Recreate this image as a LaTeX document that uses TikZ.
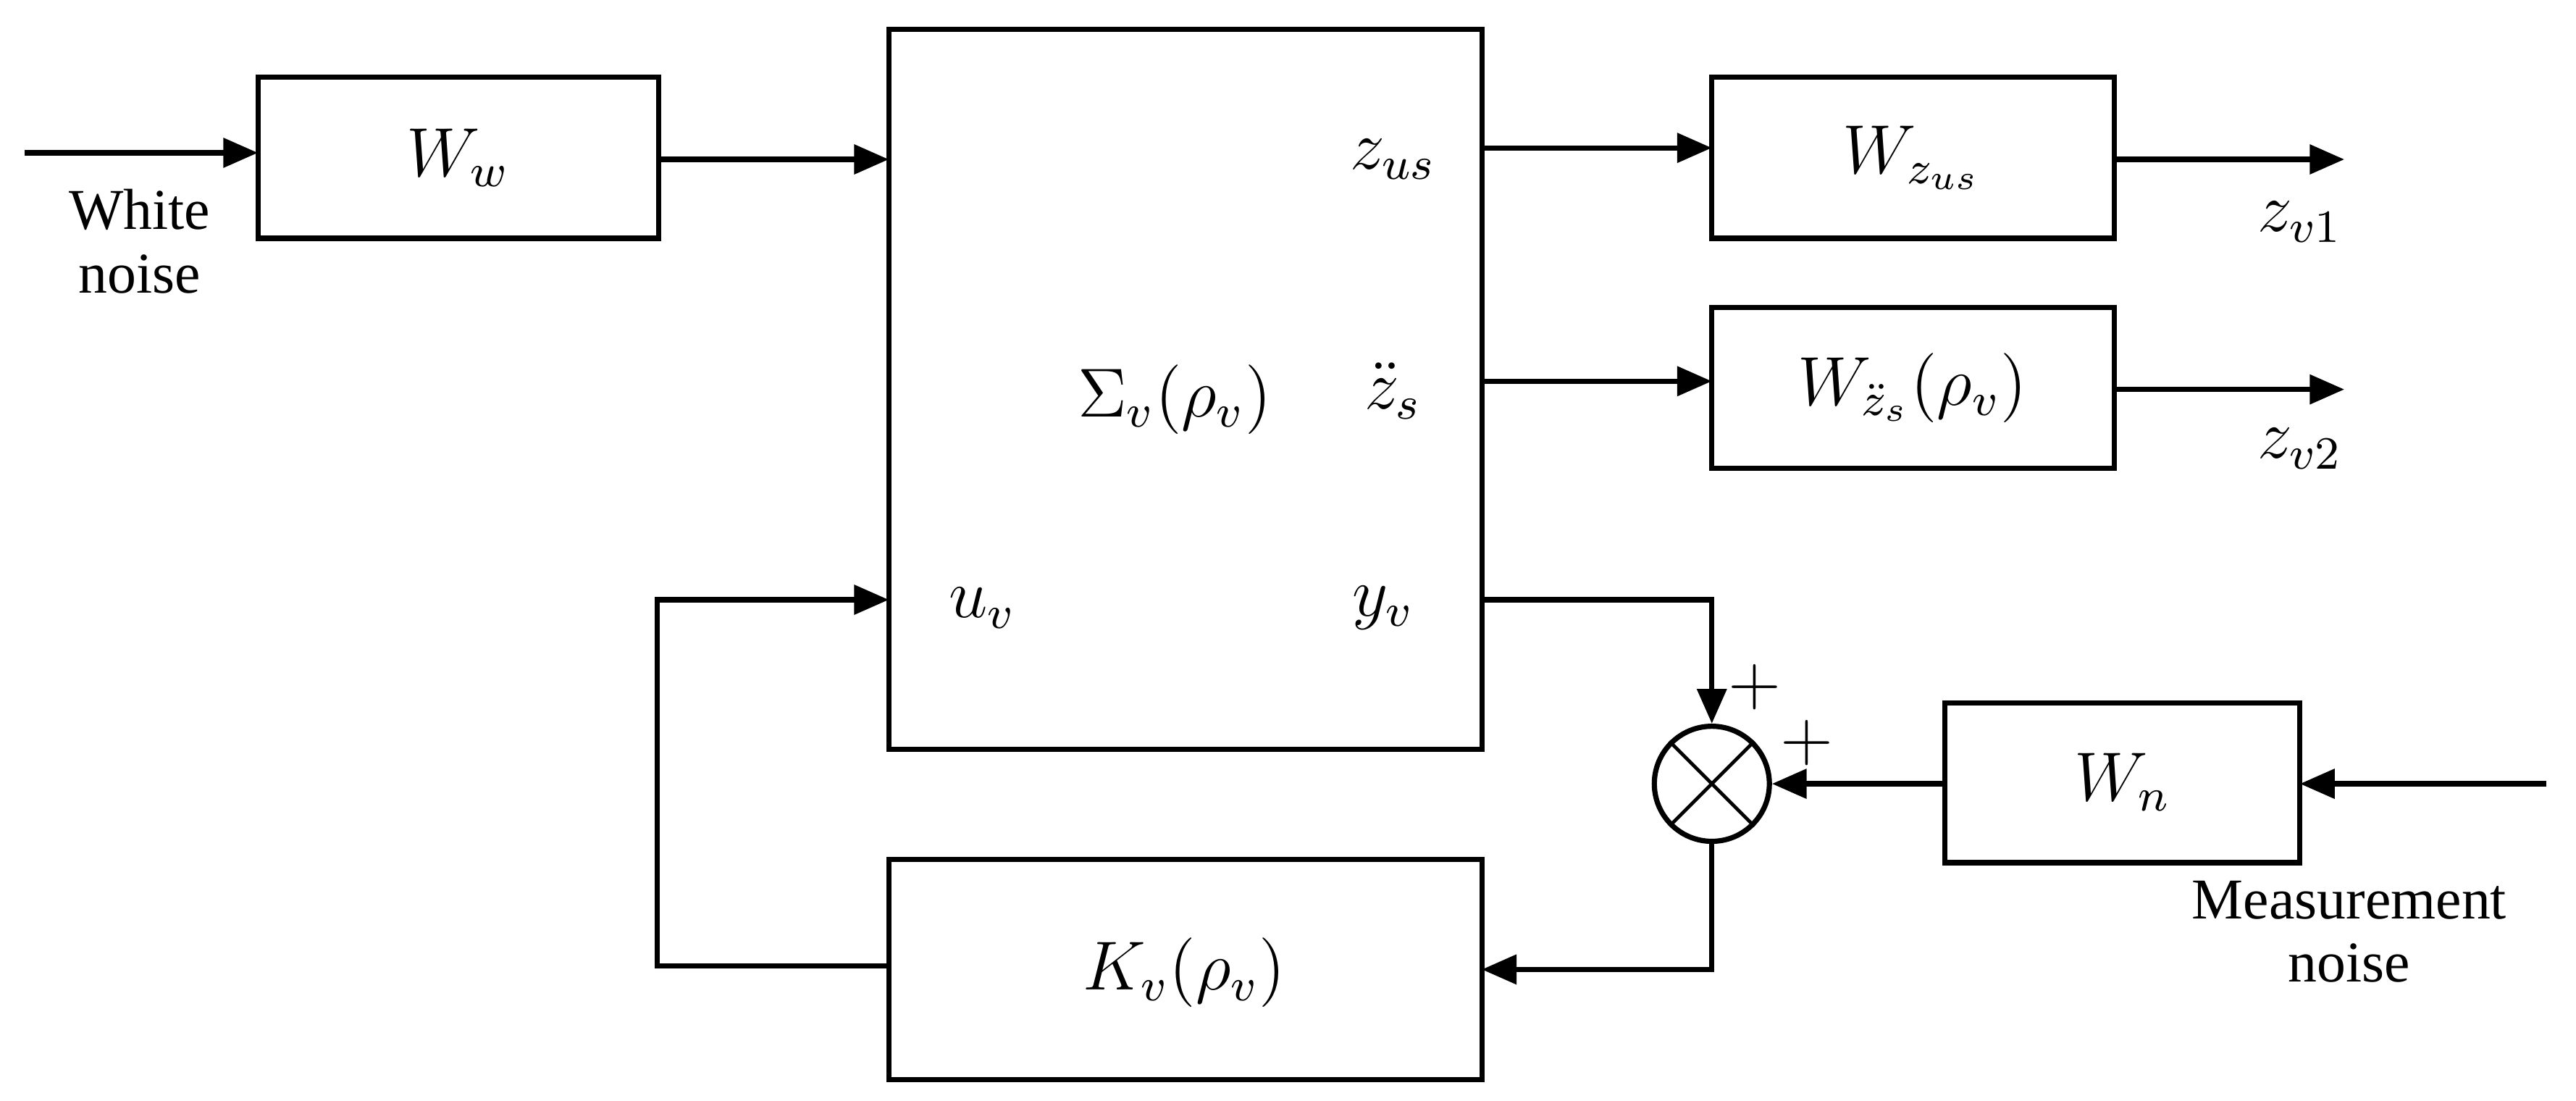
\documentclass[tikz,border=0pt]{standalone}
\usepackage{fontspec}
\setmainfont{Liberation Serif}
\usetikzlibrary{arrows.meta}
\begin{document}
\begin{tikzpicture}[x=0.01cm,y=-0.01cm,
  ar/.style={line width=0.9pt,-{Triangle[length=6pt,width=5pt]}},
  box/.style={line width=0.9pt},
  lab/.style={font=\fontsize{11.5}{13}\selectfont},
  txt/.style={font=\fontsize{10}{11}\selectfont,align=center}]
\useasboundingbox (0,0) rectangle (1568,670);
\draw[box] (157,47) rectangle (401,145);
\node[lab] (Ww) at (279,96) {$W_w$};
\coordinate (WwL) at (157,93); \coordinate (WwR) at (401,97);
\draw[box] (541,18) rectangle (902,456);
\draw[box] (1042,47) rectangle (1287,145);
\node[lab] (Wz) at (1164,96) {$W_{z_{us}}$};
\draw[box] (1042,187) rectangle (1287,285);
\node[lab] (Wa) at (1164,236) {$W_{\ddot z_s}(\rho_v)$};
\draw[box] (1184,428) rectangle (1400,525);
\node[lab] (Wn) at (1292,476) {$W_n$};
\draw[box] (541,523) rectangle (902,657);
\node[lab] (K) at (721,592) {$K_v(\rho_v)$};
\node[lab] (S) at (715,243) {$\Sigma_v(\rho_v)$};
\node[lab] (zus) at (848,97) {$z_{us}$};
\node[lab] (zs) at (848,238) {$\ddot z_s$};
\node[lab] (uv) at (598,370) {$u_v$};
\node[lab] (yv) at (842,370) {$y_v$};
\node[txt] (wn) at (85,147) {White\\noise};
\node[txt] (mn) at (1430,567) {Measurement\\noise};
\node[lab] (zv1) at (1400,135) {$z_{v1}$};
\node[lab] (zv2) at (1400,273) {$z_{v2}$};
\node[draw,circle,line width=0.9pt,minimum size=0.7cm,inner sep=0pt] (sum) at (1042,477) {};
\draw[line width=0.6pt] (sum.north west)--(sum.south east) (sum.north east)--(sum.south west);
\node[font=\fontsize{13}{13}\selectfont] (p1) at (1068,418) {$+$};
\node[font=\fontsize{13}{13}\selectfont] (p2) at (1100,452) {$+$};
\coordinate (in) at (15,93);
\draw[ar] (in) -- (WwL);
\draw[ar] (WwR) -- (541,97);
\draw[ar] (902,90) -- (1042,90);
\draw[ar] (1287,97) -- (1427,97);
\draw[ar] (902,232) -- (1042,232);
\draw[ar] (1287,237) -- (1427,237);
\draw[ar] (902,365) -- (1042,365) -- (sum.north);
\draw[ar] (1550,477) -- (1400,477);
\draw[ar] (1184,477) -- (sum.east);
\draw[ar] (sum.south) -- (1042,590) -- (902,590);
\draw[ar] (541,588) -- (400,588) -- (400,365) -- (541,365);
\end{tikzpicture}
\end{document}
